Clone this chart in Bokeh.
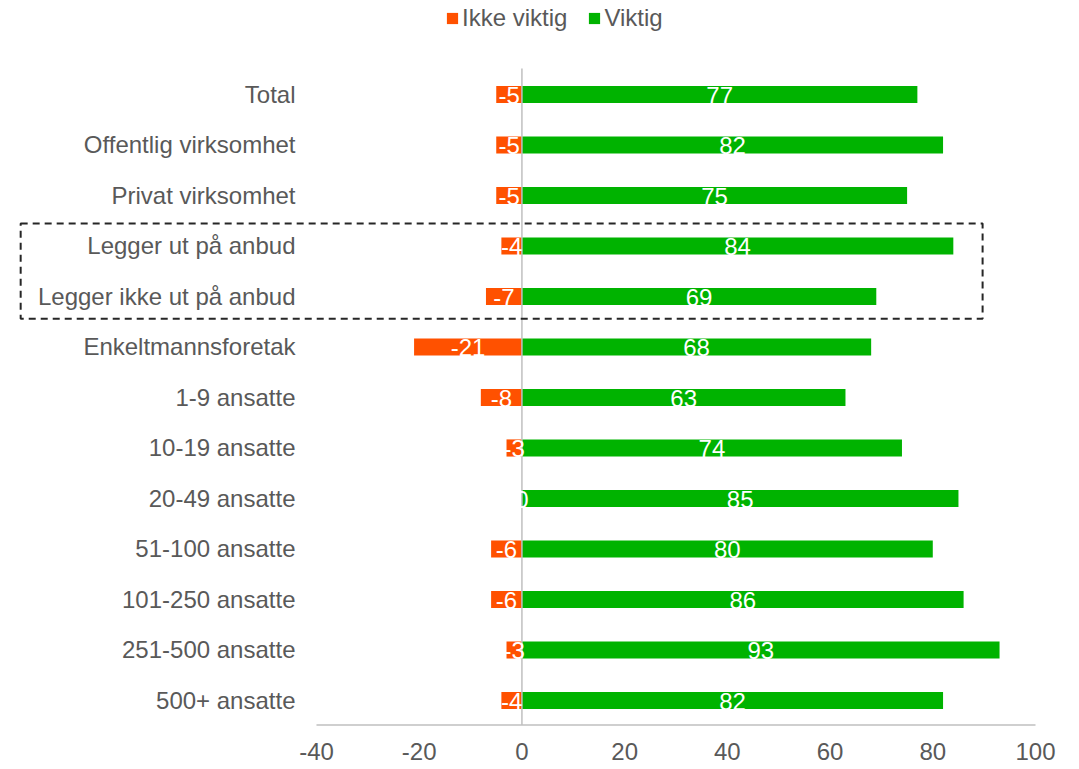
import numpy as np
from bokeh.plotting import figure
from bokeh.models import Range1d, FixedTicker, ColumnDataSource
from bokeh.core.properties import value
from bokeh.embed import file_html
from bokeh.resources import INLINE

categories = ["Total", "Offentlig virksomhet", "Privat virksomhet",
              "Legger ut på anbud", "Legger ikke ut på anbud",
              "Enkeltmannsforetak", "1-9 ansatte", "10-19 ansatte",
              "20-49 ansatte", "51-100 ansatte", "101-250 ansatte",
              "251-500 ansatte", "500+ ansatte"]
ikke_viktig = [-5, -5, -5, -4, -7, -21, -8, -3, 0, -6, -6, -3, -4]
viktig = [77, 82, 75, 84, 69, 68, 63, 74, 85, 80, 86, 93, 82]
x_ticks = [-40, -20, 0, 20, 40, 60, 80, 100]
highlighted = ["Legger ut på anbud", "Legger ikke ut på anbud"]

FONT = "Liberation Sans"
GREY_TXT = "#595959"
ORANGE = "#FF5100"
GREEN = "#00B300"
LINE = "#BFBFBF"

n = len(categories)
ypos = -np.arange(n)

src = ColumnDataSource(dict(
    y=ypos, cat=categories,
    neg=ikke_viktig, pos=viktig,
    negmid=np.array(ikke_viktig) / 2.0, posmid=np.array(viktig) / 2.0,
    neglab=[str(v) for v in ikke_viktig], poslab=[str(v) for v in viktig],
))

p = figure(frame_width=1063, frame_height=726,
           x_range=Range1d(-99.97, 107.01), y_range=Range1d(-12.515, 1.8614),
           output_backend="svg", toolbar_location=None,
           min_border_left=8, min_border_right=0, min_border_top=0, min_border_bottom=40)
p.outline_line_color = None
p.grid.visible = False
p.yaxis.visible = False
p.background_fill_color = "white"

p.hbar(y="y", left="neg", right=0, height=0.34, source=src,
       fill_color=ORANGE, line_color=None, legend_label="Ikke viktig")
p.hbar(y="y", left=0, right="pos", height=0.34, source=src,
       fill_color=GREEN, line_color=None, legend_label="Viktig")

# zero line and x axis line
p.segment(x0=[0], y0=[0.515], x1=[0], y1=[ypos[-1] - 0.485], line_color=LINE, line_width=1.5)
p.segment(x0=[x_ticks[0]], y0=[ypos[-1] - 0.485], x1=[x_ticks[-1]], y1=[ypos[-1] - 0.485],
          line_color=LINE, line_width=1.5)

# bar labels
p.text(x="negmid", y="y", text="neglab", source=src, text_color="white",
       text_font=value(FONT), text_font_size="24px", text_align="center",
       text_baseline="middle", y_offset=1)
p.text(x="posmid", y="y", text="poslab", source=src, text_color="white",
       text_font=value(FONT), text_font_size="24px", text_align="center",
       text_baseline="middle", y_offset=1)

# category labels
p.text(x=x_ticks[0], y="y", text="cat", source=src, text_color=GREY_TXT,
       text_font=value(FONT), text_font_size="24px", text_align="right",
       text_baseline="middle", x_offset=-21, y_offset=0)

# dashed highlight box
hi = [categories.index(c) for c in highlighted]
p.quad(left=[-97.6], right=[89.7], top=[-min(hi) + 0.445], bottom=[-max(hi) - 0.44],
       fill_color=None, line_color="#262626", line_width=2, line_dash="7 5")

ax = p.xaxis[0]
ax.ticker = FixedTicker(ticks=x_ticks)
ax.major_label_overrides = {t: str(t) for t in x_ticks}
ax.axis_line_color = None
ax.major_tick_line_color = None
ax.minor_tick_line_color = None
ax.major_tick_out = 0
ax.major_tick_in = 0
ax.major_label_standoff = 16
ax.major_label_text_font = FONT
ax.major_label_text_font_size = "24px"
ax.major_label_text_color = GREY_TXT

lg = p.legend[0]
lg.orientation = "horizontal"
lg.location = (437, 694)
lg.border_line_color = None
lg.background_fill_alpha = 0
lg.padding = 0
lg.margin = 0
lg.spacing = 20
lg.label_standoff = 3
lg.glyph_width = 14
lg.glyph_height = 14
lg.label_text_font = FONT
lg.label_text_font_size = "24px"
lg.label_text_color = GREY_TXT

open("out.html", "w").write(file_html(p, INLINE))
